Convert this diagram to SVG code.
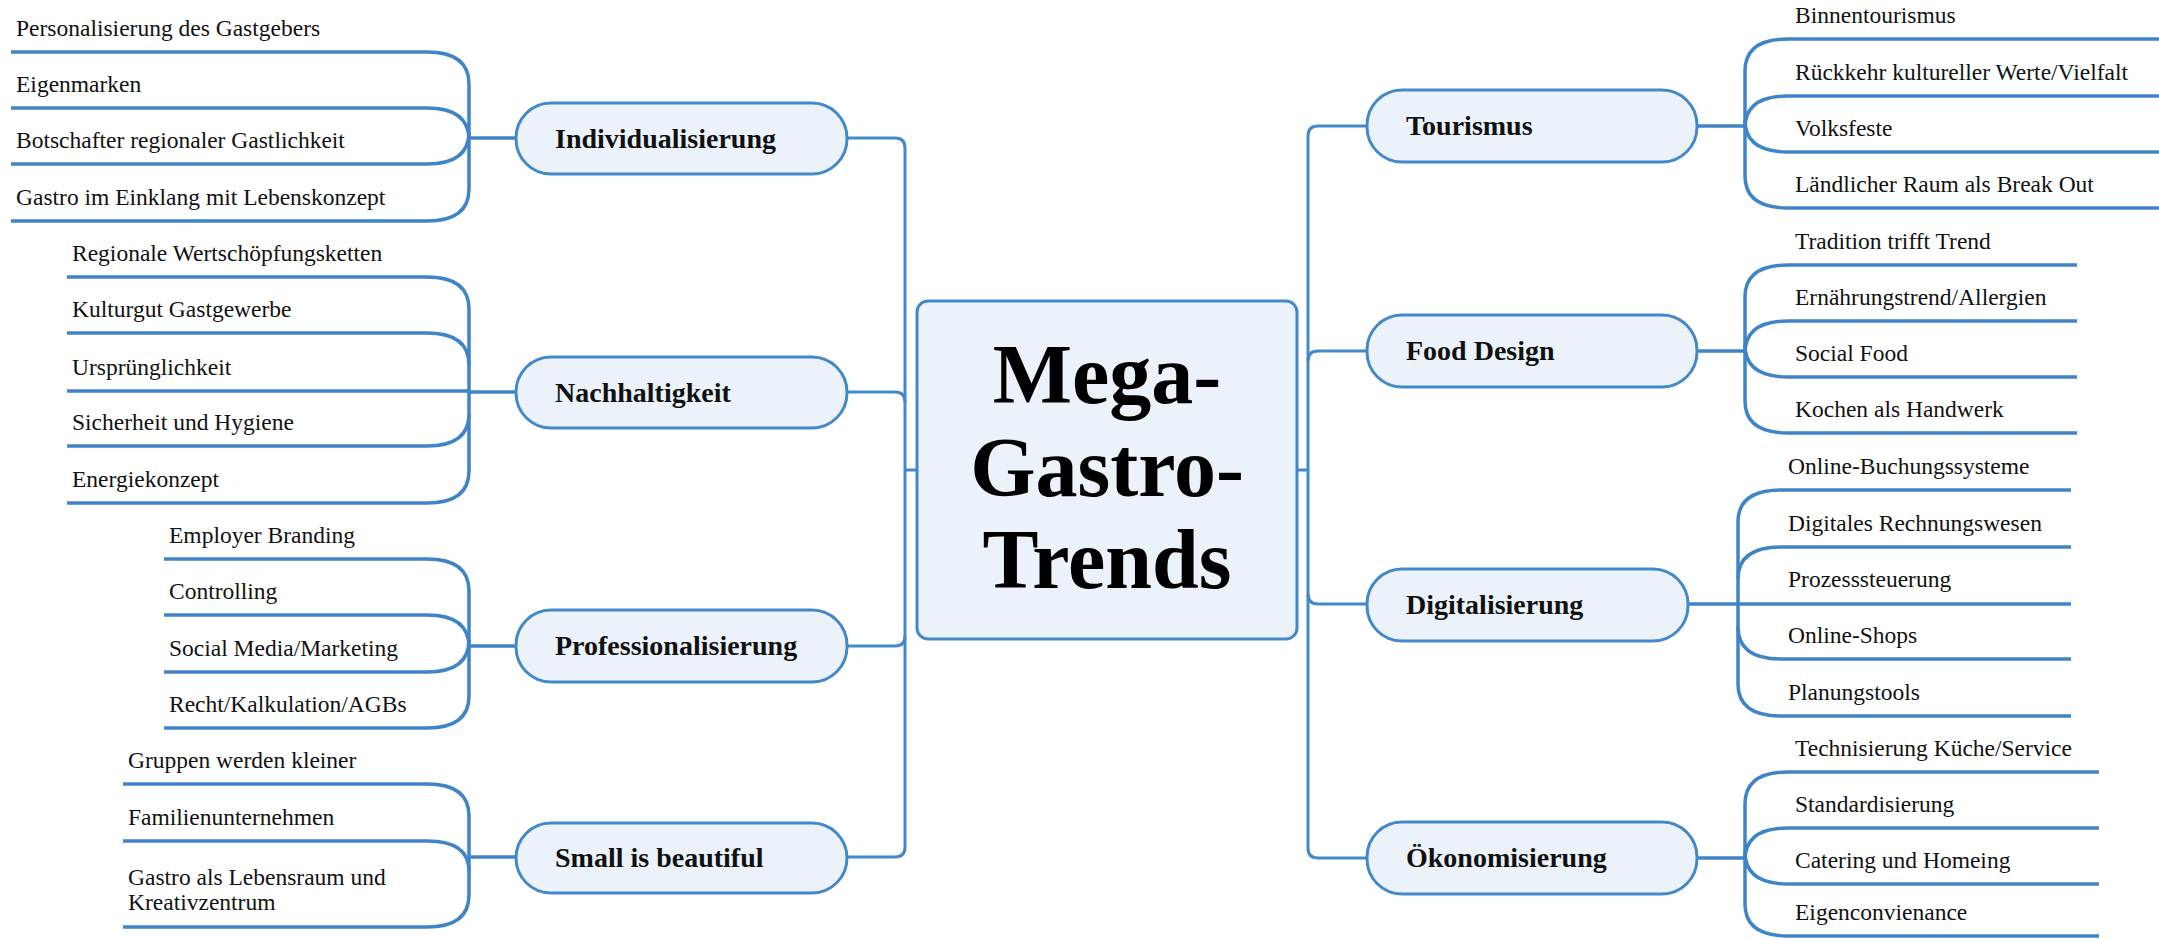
<svg xmlns="http://www.w3.org/2000/svg" width="2159" height="939" viewBox="0 0 2159 939">
<style>
.bg{fill:#ffffff}
.node{fill:#EBF2FA;stroke:#4389CA;stroke-width:3}
.ntext{font-family:"Liberation Serif",serif;font-weight:bold;font-size:28px;fill:#111}
.ctext{font-family:"Liberation Serif",serif;font-weight:bold;font-size:84px;fill:#000;text-anchor:middle}
.leaf{font-family:"Liberation Serif",serif;font-size:23.5px;fill:#111}
.c{fill:none;stroke:#3E84C6;stroke-width:3.5;stroke-linecap:butt}
.t{fill:none;stroke:#4389CA;stroke-width:3}
</style>
<rect class="bg" x="0" y="0" width="2159" height="939"/>
<g id="connectors">
<path class="t" d="M847 138 H895 Q905 138 905 148 V847 Q905 857 895 857 H847"/>
<path class="t" d="M847 392 H895 Q905 392 905 402"/>
<path class="t" d="M847 646 H895 Q905 646 905 636"/>
<path class="t" d="M905 470 H917"/>
<path class="t" d="M1367 126 H1318 Q1308 126 1308 136 V848 Q1308 858 1318 858 H1367"/>
<path class="t" d="M1367 351 H1318 Q1308 351 1308 361"/>
<path class="t" d="M1367 604 H1318 Q1308 604 1308 594"/>
<path class="t" d="M1297 470 H1308"/>
<path class="c" d="M11 52 H427 Q469 52 469 84 V189 Q469 221 427 221 H11"/>
<path class="c" d="M11 108 H427 Q469 108 469 140"/>
<path class="c" d="M11 164 H427 Q469 164 469 132"/>
<path class="c" d="M469 138 H516"/>
<path class="c" d="M67 277 H427 Q469 277 469 309 V471 Q469 503 427 503 H67"/>
<path class="c" d="M67 333 H427 Q469 333 469 365"/>
<path class="c" d="M67 391 H469"/>
<path class="c" d="M67 446 H427 Q469 446 469 414"/>
<path class="c" d="M469 392 H516"/>
<path class="c" d="M164 559 H427 Q469 559 469 591 V696 Q469 728 427 728 H164"/>
<path class="c" d="M164 615 H427 Q469 615 469 647"/>
<path class="c" d="M164 672 H427 Q469 672 469 640"/>
<path class="c" d="M469 646 H516"/>
<path class="c" d="M123 784 H427 Q469 784 469 816 V895 Q469 927 427 927 H123"/>
<path class="c" d="M123 841 H427 Q469 841 469 871"/>
<path class="c" d="M469 857 H516"/>
<path class="c" d="M2159 39 H1788 Q1745 39 1745 71 V176 Q1745 208 1788 208 H2159"/>
<path class="c" d="M2159 96 H1788 Q1745 96 1745 128"/>
<path class="c" d="M2159 152 H1788 Q1745 152 1745 120"/>
<path class="c" d="M1697 126 H1745"/>
<path class="c" d="M2077 265 H1788 Q1745 265 1745 297 V401 Q1745 433 1788 433 H2077"/>
<path class="c" d="M2077 321 H1788 Q1745 321 1745 353"/>
<path class="c" d="M2077 377 H1788 Q1745 377 1745 345"/>
<path class="c" d="M1697 351 H1745"/>
<path class="c" d="M2071 490 H1781 Q1738 490 1738 522 V684 Q1738 716 1781 716 H2071"/>
<path class="c" d="M2071 547 H1781 Q1738 547 1738 579"/>
<path class="c" d="M2071 604 H1738"/>
<path class="c" d="M2071 659 H1781 Q1738 659 1738 627"/>
<path class="c" d="M1688 604 H1738"/>
<path class="c" d="M2099 772 H1788 Q1745 772 1745 804 V904 Q1745 936 1788 936 H2099"/>
<path class="c" d="M2099 828 H1788 Q1745 828 1745 860"/>
<path class="c" d="M2099 884 H1788 Q1745 884 1745 852"/>
<path class="c" d="M1697 858 H1745"/>
</g>
<g id="center">
<rect class="node" x="917" y="301" width="380" height="338" rx="11"/>
<text class="ctext" x="1107" y="403">Mega-</text>
<text class="ctext" x="1107" y="496">Gastro-</text>
<text class="ctext" x="1107" y="588">Trends</text>
</g>
<g id="individualisierung">
<rect class="node" x="516" y="103" width="331" height="71" rx="35"/>
<text class="ntext" x="555" y="148">Individualisierung</text>
<text class="leaf" x="16" y="36">Personalisierung des Gastgebers</text>
<text class="leaf" x="16" y="92">Eigenmarken</text>
<text class="leaf" x="16" y="148">Botschafter regionaler Gastlichkeit</text>
<text class="leaf" x="16" y="205">Gastro im Einklang mit Lebenskonzept</text>
</g>
<g id="nachhaltigkeit">
<rect class="node" x="516" y="357" width="331" height="71" rx="35"/>
<text class="ntext" x="555" y="402">Nachhaltigkeit</text>
<text class="leaf" x="72" y="261">Regionale Wertschöpfungsketten</text>
<text class="leaf" x="72" y="317">Kulturgut Gastgewerbe</text>
<text class="leaf" x="72" y="375">Ursprünglichkeit</text>
<text class="leaf" x="72" y="430">Sicherheit und Hygiene</text>
<text class="leaf" x="72" y="487">Energiekonzept</text>
</g>
<g id="professionalisierung">
<rect class="node" x="516" y="610" width="331" height="72" rx="35"/>
<text class="ntext" x="555" y="655">Professionalisierung</text>
<text class="leaf" x="169" y="543">Employer Branding</text>
<text class="leaf" x="169" y="599">Controlling</text>
<text class="leaf" x="169" y="656">Social Media/Marketing</text>
<text class="leaf" x="169" y="712">Recht/Kalkulation/AGBs</text>
</g>
<g id="small">
<rect class="node" x="516" y="823" width="331" height="70" rx="35"/>
<text class="ntext" x="555" y="867">Small is beautiful</text>
<text class="leaf" x="128" y="768">Gruppen werden kleiner</text>
<text class="leaf" x="128" y="825">Familienunternehmen</text>
<text class="leaf" x="128" y="885">Gastro als Lebensraum und</text>
<text class="leaf" x="128" y="910">Kreativzentrum</text>
</g>
<g id="tourismus">
<rect class="node" x="1367" y="90" width="330" height="72" rx="35"/>
<text class="ntext" x="1406" y="135">Tourismus</text>
<text class="leaf" x="1795" y="23">Binnentourismus</text>
<text class="leaf" x="1795" y="80">Rückkehr kultureller Werte/Vielfalt</text>
<text class="leaf" x="1795" y="136">Volksfeste</text>
<text class="leaf" x="1795" y="192">Ländlicher Raum als Break Out</text>
</g>
<g id="food">
<rect class="node" x="1367" y="315" width="330" height="72" rx="35"/>
<text class="ntext" x="1406" y="360">Food Design</text>
<text class="leaf" x="1795" y="249">Tradition trifft Trend</text>
<text class="leaf" x="1795" y="305">Ernährungstrend/Allergien</text>
<text class="leaf" x="1795" y="361">Social Food</text>
<text class="leaf" x="1795" y="417">Kochen als Handwerk</text>
</g>
<g id="digitalisierung">
<rect class="node" x="1367" y="569" width="321" height="72" rx="35"/>
<text class="ntext" x="1406" y="614">Digitalisierung</text>
<text class="leaf" x="1788" y="474">Online-Buchungssysteme</text>
<text class="leaf" x="1788" y="531">Digitales Rechnungswesen</text>
<text class="leaf" x="1788" y="587">Prozesssteuerung</text>
<text class="leaf" x="1788" y="643">Online-Shops</text>
<text class="leaf" x="1788" y="700">Planungstools</text>
</g>
<g id="oekonomisierung">
<rect class="node" x="1367" y="822" width="330" height="72" rx="35"/>
<text class="ntext" x="1406" y="867">Ökonomisierung</text>
<text class="leaf" x="1795" y="756">Technisierung Küche/Service</text>
<text class="leaf" x="1795" y="812">Standardisierung</text>
<text class="leaf" x="1795" y="868">Catering und Homeing</text>
<text class="leaf" x="1795" y="920">Eigenconvienance</text>
</g>
</svg>
